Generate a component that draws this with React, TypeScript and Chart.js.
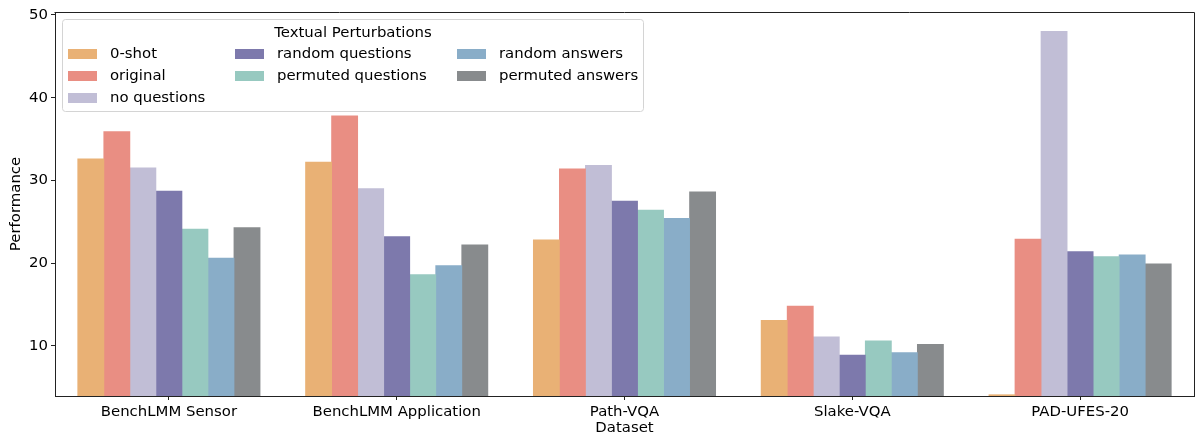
import React, { useEffect, useRef } from 'react';
import { Chart, registerables } from 'chart.js';

Chart.register(...registerables);

const CATEGORIES = ['BenchLMM Sensor', 'BenchLMM Application', 'Path-VQA', 'Slake-VQA', 'PAD-UFES-20'];
const SERIES_NAMES = ['0-shot', 'original', 'no questions', 'random questions', 'permuted questions', 'random answers', 'permuted answers'];
const ZERO_SHOT = [32.6, 32.2, 22.8, 13.1, 4.1];
const ORIGINAL = [35.9, 37.8, 31.4, 14.8, 22.9];
const NO_QUESTIONS = [31.5, 29.0, 31.8, 11.1, 48.0];
const RANDOM_QUESTIONS = [28.7, 23.2, 27.5, 8.9, 21.4];
const PERMUTED_QUESTIONS = [24.1, 18.6, 26.4, 10.6, 20.8];
const RANDOM_ANSWERS = [20.6, 19.7, 25.4, 9.2, 21.0];
const PERMUTED_ANSWERS = [24.3, 22.2, 28.6, 10.2, 19.9];
const SERIES_VALUES = [ZERO_SHOT, ORIGINAL, NO_QUESTIONS, RANDOM_QUESTIONS, PERMUTED_QUESTIONS, RANDOM_ANSWERS, PERMUTED_ANSWERS];
const COLORS = ['#e9b175', '#e98e83', '#c1bed6', '#7d79ac', '#97c9c0', '#89adc8', '#888b8d'];
const Y_TICKS = [10, 20, 30, 40, 50];
const Y_MIN = 3.95;
const Y_MAX = 50.35;
const LEGEND_TITLE = 'Textual Perturbations';
const X_TITLE = 'Dataset';
const Y_TITLE = 'Performance';

const FONT = "'DejaVu Sans', sans-serif";
const FS = 14.9;

const framePlugin = {
  id: 'frame',
  afterDatasetsDraw(chart: any) {
    const { ctx, chartArea: ca } = chart;
    ctx.save();
    ctx.strokeStyle = '#222';
    ctx.lineWidth = 1;
    ctx.beginPath();
    ctx.moveTo(Math.round(ca.left) - 0.5, Math.round(ca.top) + 0.5);
    ctx.lineTo(Math.round(ca.right) + 0.5, Math.round(ca.top) + 0.5);
    ctx.lineTo(Math.round(ca.right) + 0.5, Math.round(ca.bottom));
    ctx.stroke();
    ctx.restore();
  },
};

const legendPlugin = {
  id: 'mplLegend',
  afterDraw(chart: any) {
    const { ctx, chartArea: ca } = chart;
    const ds = chart.data.datasets;
    const n = ds.length;
    const ncol = 3;
    const base = Math.floor(n / ncol);
    const extra = n % ncol;
    const cols: number[][] = [];
    let idx = 0;
    for (let c = 0; c < ncol; c++) {
      const cnt = base + (c < extra ? 1 : 0);
      const arr: number[] = [];
      for (let k = 0; k < cnt; k++) arr.push(idx + k);
      cols.push(arr);
      idx += cnt;
    }
    const bx = Math.round(ca.left) + 7.5;
    const by = Math.round(ca.top) + 7.5;
    const bw = 581;
    const bh = 92;
    ctx.save();
    ctx.fillStyle = 'rgba(255,255,255,0.85)';
    ctx.strokeStyle = '#d4d4d4';
    ctx.lineWidth = 1;
    ctx.beginPath();
    ctx.roundRect(bx, by, bw, bh, 3);
    ctx.fill();
    ctx.stroke();

    ctx.font = `${FS}px ${FONT}`;
    ctx.fillStyle = '#000';
    ctx.textBaseline = 'middle';
    ctx.textAlign = 'center';
    ctx.fillText(LEGEND_TITLE, bx + bw / 2, by + 14);

    ctx.textAlign = 'left';
    const colX = [5.5, 172.5, 394.5];
    const rowY = [35, 57, 79];
    cols.forEach((col, c) => {
      col.forEach((i, r) => {
        const sx = bx + colX[c];
        const sy = by + rowY[r];
        ctx.fillStyle = ds[i].backgroundColor;
        ctx.fillRect(sx, sy - 5.5, 29, 10);
        ctx.fillStyle = '#000';
        ctx.fillText(ds[i].label, sx + 42, sy);
      });
    });
    ctx.restore();
  },
};

export default function App() {
  const ref = useRef<HTMLCanvasElement | null>(null);

  useEffect(() => {
    document.body.style.margin = '0';
    document.body.style.overflow = 'hidden';
    const canvas = ref.current;
    if (!canvas) return;
    const chart = new Chart(canvas, {
      type: 'bar',
      data: {
        labels: CATEGORIES,
        datasets: SERIES_NAMES.map((name, i) => ({
          label: name,
          data: SERIES_VALUES[i],
          backgroundColor: COLORS[i],
          borderWidth: 0,
          inflateAmount: 0.4,
          categoryPercentage: 0.8,
          barPercentage: 1.0,
        })),
      },
      options: {
        responsive: false,
        animation: false,
        devicePixelRatio: 1,
        layout: { padding: { left: 0, right: 1, top: 12, bottom: 0 } },
        plugins: {
          legend: { display: false },
          tooltip: { enabled: false },
        },
        scales: {
          x: {
            offset: true,
            grid: { offset: false, drawOnChartArea: false, drawTicks: true, tickLength: 4, color: '#222' },
            border: { display: true, color: '#222', width: 1 },
            ticks: { color: '#000', padding: 3, font: { family: FONT, size: FS }, maxRotation: 0, autoSkip: false },
            title: { display: true, text: X_TITLE, color: '#000', font: { family: FONT, size: FS }, padding: { top: 0, bottom: -1.5 } },
            afterFit: (scale: any) => { scale.height = 40; },
          },
          y: {
            min: Y_MIN,
            max: Y_MAX,
            afterBuildTicks: (scale: any) => { scale.ticks = Y_TICKS.map((v) => ({ value: v })); },
            grid: { drawOnChartArea: false, drawTicks: true, tickLength: 4, color: '#222' },
            border: { display: true, color: '#222', width: 1 },
            ticks: { color: '#000', padding: 3, font: { family: FONT, size: FS } },
            title: { display: true, text: Y_TITLE, color: '#000', font: { family: FONT, size: FS }, padding: { top: 7, bottom: 0 } },
            afterFit: (scale: any) => { scale.width = 55; },
          },
        },
      },
      plugins: [framePlugin, legendPlugin],
    });
    return () => chart.destroy();
  }, []);

  return (
    <div style={{ width: 1195, height: 436 }}>
      <canvas ref={ref} width={1195} height={436} style={{ display: 'block' }} />
    </div>
  );
}
